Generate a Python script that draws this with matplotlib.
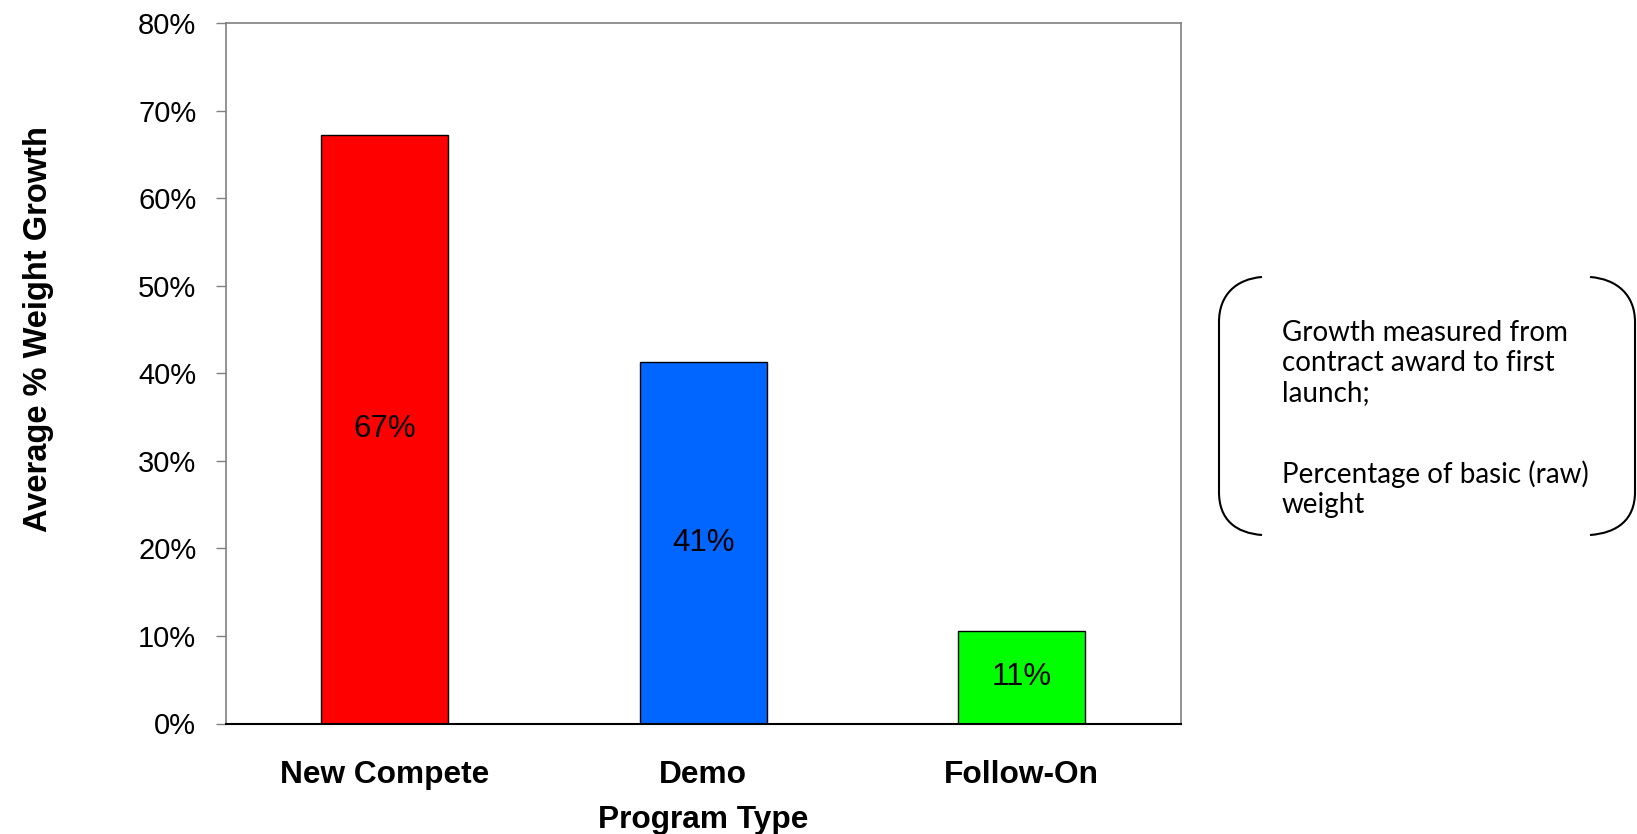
import matplotlib.pyplot as plt
from matplotlib.path import Path
from matplotlib.patches import PathPatch
from matplotlib.ticker import PercentFormatter

# average weight growth per program type
programs = ["New Compete", "Demo", "Follow-On"]
growth = [0.672, 0.413, 0.106]
bar_colors = ["#ff0000", "#0066ff", "#00ff00"]

note_para1 = "Growth measured from\ncontract award to first\nlaunch;"
note_para2 = "Percentage of basic (raw)\nweight"

plt.rcParams['font.family'] = ['Liberation Sans', 'DejaVu Sans']

W, H = 1637, 834
fig = plt.figure(figsize=(W / 100, H / 100), dpi=100)
ax = fig.add_axes([225.5 / W, 1 - 723.5 / H, (1181 - 225.5) / W, (723.5 - 23) / H])

xpos = list(range(len(programs)))
bars = ax.bar(xpos, growth, width=0.4, color=bar_colors, edgecolor='black', linewidth=1)
for b, v in zip(bars, growth):
    ax.text(b.get_x() + b.get_width() / 2, v / 2, f"{v:.0%}",
            ha='center', va='center', fontsize=22.5)

ax.set_xlim(-0.5, 2.5)
ax.set_ylim(0, 0.8)
ax.set_yticks([i / 10 for i in range(9)])
ax.yaxis.set_major_formatter(PercentFormatter(1.0, decimals=0))
ax.set_xticks(xpos)
ax.set_xticklabels(programs, fontsize=22.8, fontweight='bold')
ax.tick_params(axis='x', length=0, pad=26)
ax.tick_params(axis='y', labelsize=21, length=7, width=1, color='#808080', pad=14)

for side in ['left', 'top', 'right']:
    ax.spines[side].set_color('#808080')
    ax.spines[side].set_linewidth(1.2)
ax.spines['bottom'].set_color('black')
ax.spines['bottom'].set_linewidth(1.5)

fig.text(703 / W, 1 - 820 / H, "Program Type", ha='center', va='center',
         fontsize=22.8, fontweight='bold')
fig.text(38.6 / W, 1 - 329 / H, "Average % Weight Growth", ha='center', va='center',
         rotation=90, fontsize=23.5, fontweight='bold')

# note box with rounded brackets, drawn in pixel coordinates
ov = fig.add_axes([0, 0, 1, 1])
ov.set_xlim(0, W)
ov.set_ylim(H, 0)
ov.axis('off')

codes = [Path.MOVETO, Path.CURVE4, Path.CURVE4, Path.CURVE4, Path.LINETO,
         Path.CURVE4, Path.CURVE4, Path.CURVE4]
left = [(1262, 277), (1236, 279), (1219, 295), (1219, 322), (1219, 492),
        (1219, 520), (1236, 533), (1262, 535)]
right = [(1590, 277), (1617, 279), (1635, 295), (1635, 322), (1635, 492),
         (1635, 520), (1617, 533), (1590, 535)]
for verts in (left, right):
    ov.add_patch(PathPatch(Path(verts, codes), fill=False, edgecolor='black', linewidth=1.5))

ov.text(1282, 320, note_para1, ha='left', va='top', fontsize=20,
        family=['Lato', 'DejaVu Sans'], linespacing=1.2)
ov.text(1282, 460, note_para2, ha='left', va='top', fontsize=20,
        family=['Lato', 'DejaVu Sans'], linespacing=1.2)

fig.savefig("out.png", dpi=100)
